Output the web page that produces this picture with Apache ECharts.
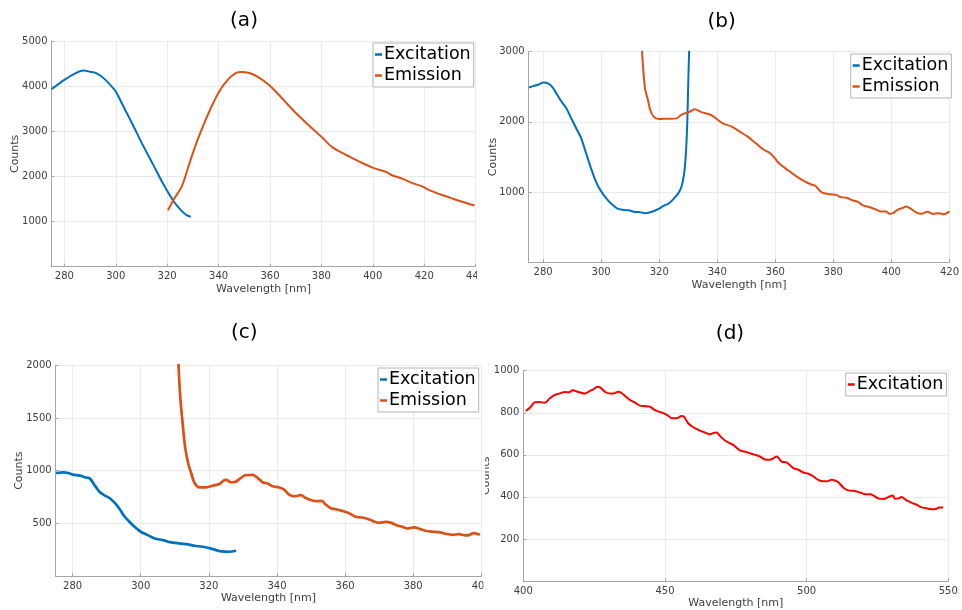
<!DOCTYPE html>
<html>
<head>
<meta charset="utf-8">
<script src="https://cdn.jsdelivr.net/npm/echarts@6/dist/echarts.min.js"></script>
<style>
  html, body { margin: 0; padding: 0; background: #fff; }
  #main { width: 962px; height: 610px; }
</style>
</head>
<body>
<div id="main"></div>
<script>
// (a)
const aExWl = [275, 280, 284.8, 287.4, 290, 292.6, 295.8, 299, 300, 303, 306.9, 310.8, 314.7, 318.6, 322.5, 325.7, 327.7, 329.2];
const aExCounts = [3930, 4140, 4300, 4345, 4320, 4285, 4150, 3955, 3880, 3550, 3110, 2665, 2245, 1820, 1450, 1230, 1135, 1105];
const aEmWl = [320.3, 322.5, 325.7, 328.3, 330.9, 334.2, 337.4, 340.6, 343.9, 346.5, 348.4, 352.3, 355.6, 358.8, 361.4, 365.3, 369.2, 373.1, 377, 380.5, 384.2, 388.7, 392.6, 396.5, 400.4, 405.6, 407.5, 410.8, 416, 419.2, 422.4, 426.4, 430.3, 434.2, 439.6];
const aEmCounts = [1250, 1485, 1780, 2225, 2665, 3145, 3565, 3915, 4160, 4285, 4315, 4285, 4195, 4065, 3930, 3695, 3455, 3240, 3035, 2850, 2650, 2505, 2390, 2280, 2185, 2090, 2025, 1965, 1840, 1780, 1685, 1600, 1525, 1450, 1355];

// (b)
const bExWl = [275.1, 276.6, 278.3, 280, 281.7, 283.2, 284.5, 286.3, 288, 289.7, 291.4, 293.1, 294.8, 296.5, 298.2, 300, 302.2, 303.9, 305.6, 307.3, 309.5, 311.3, 313, 315.2, 317.5, 319.8, 321.5, 323.2, 324.9, 326.6, 327.7, 328.6, 329.2, 329.7, 330, 330.3, 330.6];
const bExCounts = [2490, 2510, 2530, 2560, 2550, 2495, 2410, 2290, 2195, 2050, 1910, 1770, 1555, 1340, 1150, 1010, 890, 820, 765, 750, 740, 720, 715, 700, 720, 760, 805, 835, 900, 985, 1080, 1270, 1555, 2030, 2550, 3000, 3500];
const bEmWl = [313.8, 314.1, 314.7, 315.2, 316.1, 316.9, 318.1, 319.8, 321.5, 323.8, 326, 327.7, 330, 332.3, 334.5, 338, 340.2, 341.9, 344.8, 347.6, 350.5, 353.3, 356.1, 357.8, 359.5, 361.3, 364.1, 366.9, 369.8, 372.6, 373.8, 376, 378.9, 381.1, 382.3, 384.5, 386.8, 388.5, 390.2, 392.5, 394.8, 396.5, 398.2, 399.3, 400.5, 402.2, 403.9, 405.1, 406.8, 408.5, 410.2, 412.5, 414.2, 416.4, 418.1, 420];
const bEmCounts = [3500, 3000, 2645, 2455, 2315, 2170, 2075, 2040, 2045, 2045, 2050, 2105, 2135, 2180, 2140, 2095, 2030, 1980, 1935, 1865, 1790, 1695, 1600, 1565, 1500, 1410, 1320, 1235, 1160, 1105, 1090, 995, 970, 960, 930, 920, 880, 860, 810, 785, 750, 725, 725, 690, 700, 750, 775, 795, 760, 710, 690, 720, 690, 700, 685, 725];

// (c)
const cExWl = [275.1, 277.3, 278.7, 280, 282.1, 283.6, 285.1, 286.5, 288, 289.5, 290.9, 292.4, 293.9, 295.3, 296.8, 298.2, 300, 302.1, 304.1, 306.5, 308.5, 311.4, 313.9, 315.8, 318.2, 320.2, 322.1, 323.9, 326, 328];
const cExCounts = [978, 984, 978, 962, 953, 937, 924, 858, 795, 763, 738, 694, 631, 562, 511, 467, 420, 388, 356, 341, 322, 309, 300, 287, 278, 265, 246, 233, 230, 240];
const cEmWl = [310.9, 311.1, 311.6, 312.2, 313, 313.9, 314.8, 315.8, 317.3, 319.2, 321.2, 323.1, 324.3, 325.1, 326.5, 327.8, 329, 330.7, 332.9, 334.3, 335.8, 337.3, 338.7, 340.5, 342.1, 343.6, 345.1, 347, 348.5, 350.4, 351.9, 353.2, 354.3, 355.8, 357.3, 359.2, 361.2, 363.1, 365.1, 366.5, 368, 369.9, 371.9, 373.8, 375.3, 376.8, 378.2, 380.2, 381.6, 383.6, 385.6, 387.5, 389.5, 391.5, 393.4, 395.3, 396.3, 397.8, 399.6];
const cEmCounts = [2300, 2000, 1703, 1483, 1230, 1073, 978, 883, 842, 842, 858, 874, 905, 912, 890, 893, 921, 956, 959, 931, 890, 877, 852, 842, 820, 773, 757, 767, 741, 716, 710, 713, 678, 644, 634, 618, 596, 562, 555, 543, 524, 505, 514, 502, 479, 467, 451, 461, 451, 429, 420, 416, 401, 391, 397, 385, 388, 407, 391];

// (d)
const dWl = [400.9, 402.4, 404.1, 405.6, 407.6, 409.4, 411.2, 412.9, 414.7, 416.2, 417.4, 419.4, 421.8, 423.5, 424.7, 426.1, 427.1, 428.8, 430.6, 431.8, 433.5, 434.7, 435.9, 437.6, 439.4, 441.2, 442.9, 444.7, 445.9, 447.1, 449.4, 451.2, 452.4, 454.1, 455.9, 456.7, 458.2, 460, 461.8, 463.5, 465.9, 467.1, 468.2, 469.4, 471.2, 474.1, 476.5, 478.8, 481.2, 483.5, 485.3, 487.1, 488.2, 489.4, 491.2, 492.9, 495.3, 497.1, 498.8, 500.6, 502.4, 504.1, 505.9, 507.1, 508.8, 510, 511.2, 512.9, 514.7, 516.5, 518.8, 520.6, 522.4, 523.5, 525.3, 527.1, 528.8, 530.4, 531.2, 532.4, 533.5, 535.3, 537.6, 538.8, 540.6, 542.9, 545.3, 546.8, 548.2];
const dCounts = [809, 825, 850, 851, 848, 869, 885, 892, 899, 897, 907, 899, 891, 904, 911, 924, 921, 900, 891, 891, 900, 894, 880, 861, 848, 834, 832, 829, 817, 809, 798, 785, 774, 774, 785, 782, 750, 731, 719, 709, 698, 704, 706, 690, 668, 647, 621, 613, 602, 592, 578, 576, 583, 592, 568, 564, 537, 529, 516, 510, 497, 481, 474, 474, 481, 478, 470, 445, 431, 429, 421, 413, 413, 407, 393, 390, 399, 407, 391, 393, 399, 383, 369, 363, 350, 344, 341, 349, 350];

const xTicksA = [280, 300, 320, 340, 360, 380, 400, 420, 440];
const xTicksB = [280, 300, 320, 340, 360, 380, 400, 420];
const xTicksC = [280, 300, 320, 340, 360, 380, 400];

const BLUE = "#0072BD";
const ORANGE = "#D95319";
const RED = "#FF0000";
const FONT = "DejaVu Sans";

function zip(xs, ys) {
  let out = [];
  for (let i = 0; i < Math.min(xs.length, ys.length); i++) out.push([xs[i], ys[i]]);
  return out;
}

let chartDom = document.getElementById("main");
let myChart = echarts.init(chartDom, null, { renderer: "canvas" });

const grids = [
  { left: 51.5, top: 41, width: 424.1, height: 225.7 },
  { left: 528.6, top: 51.7, width: 425.4, height: 210.6 },
  { left: 55.6, top: 365.3, width: 425.7, height: 210.7 },
  { left: 523.3, top: 370.7, width: 425, height: 210.3 },
];

function xAxis(idx, min, max, ticks, interval) {
  let ax = {
    type: "value",
    gridIndex: idx,
    min: min,
    max: max,
    name: "Wavelength [nm]",
    nameLocation: "middle",
    nameGap: 17,
    nameMoveOverlap: false,
    nameTextStyle: { fontFamily: FONT, fontSize: 11, color: "#404040" },
    axisLine: { lineStyle: { color: "#a6a6a6", width: 1 } },
    axisTick: { inside: true, length: 3, lineStyle: { color: "#a6a6a6" } },
    axisLabel: { fontFamily: FONT, fontSize: 10, color: "#404040", margin: 5, showMinLabel: true, showMaxLabel: true, formatter: (v) => String(v) },
    splitLine: { show: true, lineStyle: { color: "#ebebeb", width: 1 } },
  };
  if (ticks) {
    ax.axisTick.customValues = ticks;
    ax.axisLabel.customValues = ticks;
  } else {
    ax.interval = interval;
  }
  return ax;
}

function yAxis(idx, max, interval, nameGap, showName) {
  return {
    type: "value",
    gridIndex: idx,
    min: 0,
    max: max,
    interval: interval,
    name: showName ? "Counts" : "",
    nameLocation: "middle",
    nameGap: nameGap,
    nameMoveOverlap: false,
    nameTextStyle: { fontFamily: FONT, fontSize: 11, color: "#404040" },
    axisLine: { show: true, lineStyle: { color: "#a6a6a6", width: 1 } },
    axisTick: { show: true, inside: true, length: 3, lineStyle: { color: "#a6a6a6" } },
    axisLabel: { fontFamily: FONT, fontSize: 10, color: "#404040", margin: 4, showMinLabel: false, formatter: (v) => String(v) },
    splitLine: { show: true, lineStyle: { color: "#ebebeb", width: 1 } },
  };
}

function line(name, xi, xs, ys, color, width) {
  return {
    name: name,
    type: "line",
    xAxisIndex: xi,
    yAxisIndex: xi,
    data: zip(xs, ys),
    showSymbol: false,
    symbol: "none",
    smooth: 0.3,
    clip: true,
    lineStyle: { color: color, width: width },
    itemStyle: { color: color },
  };
}

function legend(left, top, items) {
  return {
    left: left,
    top: top,
    orient: "vertical",
    icon: "rect",
    itemWidth: 7,
    itemHeight: 2.5,
    itemGap: 0,
    padding: [1, 3, 1, 2],
    backgroundColor: "#fff",
    borderColor: "#b5b5b5",
    borderWidth: 1,
    borderRadius: 0,
    selectedMode: false,
    textStyle: { fontFamily: FONT, fontSize: 17.5, color: "#000", lineHeight: 21, padding: [0, 0, 0, -3] },
    data: items.map((it) => ({ name: it[0], itemStyle: { color: it[1] } })),
  };
}

function panelTitle(text, x, y) {
  return {
    type: "text",
    x: x,
    y: y,
    style: { text: text, fontFamily: FONT, fontSize: 20, fill: "#000", align: "center", verticalAlign: "middle" },
  };
}

let option = {
  backgroundColor: "#fff",
  animation: false,
  grid: grids,
  xAxis: [
    xAxis(0, 275, 440, xTicksA),
    xAxis(1, 275, 420, xTicksB),
    xAxis(2, 275, 400, xTicksC),
    xAxis(3, 400, 550, null, 50),
  ],
  yAxis: [
    yAxis(0, 5000, 1000, 31, true),
    yAxis(1, 3000, 1000, 30, true),
    yAxis(2, 2000, 500, 30.5, true),
    yAxis(3, 1000, 200, 32, false),
  ],
  legend: [
    legend(373, 43, [["Excitation", BLUE], ["Emission", ORANGE]]),
    legend(850.7, 54, [["Excitation", BLUE], ["Emission", ORANGE]]),
    legend(378, 368, [["Excitation", BLUE], ["Emission", ORANGE]]),
    legend(845.7, 373, [["Excitation", RED]]),
  ],
  graphic: [
    panelTitle("(a)", 244, 21),
    panelTitle("(b)", 721.7, 22),
    panelTitle("(c)", 244.3, 332.7),
    panelTitle("(d)", 730, 334),
    // panel (d) y label, partly covered by panel (c)
    {
      type: "text",
      x: 486.5,
      y: 475.8,
      rotation: Math.PI / 2,
      z: -2,
      style: { text: "Counts", fontFamily: FONT, fontSize: 11, fill: "#404040", align: "center", verticalAlign: "middle" },
    },
    { type: "rect", z: -1, shape: { x: 380, y: 440, width: 105, height: 65 }, style: { fill: "#fff" } },
    // cropped edges of panels (a) and (c)
    { type: "rect", z: 100, shape: { x: 477, y: 268, width: 11, height: 18 }, style: { fill: "#fff" } },
    { type: "rect", z: 100, shape: { x: 483.5, y: 578, width: 9, height: 17 }, style: { fill: "#fff" } },
  ],
  series: [
    line("Excitation", 0, aExWl, aExCounts, BLUE, 2),
    line("Emission", 0, aEmWl, aEmCounts, ORANGE, 2),
    line("Excitation", 1, bExWl, bExCounts, BLUE, 2),
    line("Emission", 1, bEmWl, bEmCounts, ORANGE, 2),
    line("Excitation", 2, cExWl, cExCounts, BLUE, 2.7),
    line("Emission", 2, cEmWl, cEmCounts, ORANGE, 2.7),
    line("Excitation", 3, dWl, dCounts, RED, 2),
  ],
};

option && myChart.setOption(option);
</script>
</body>
</html>
